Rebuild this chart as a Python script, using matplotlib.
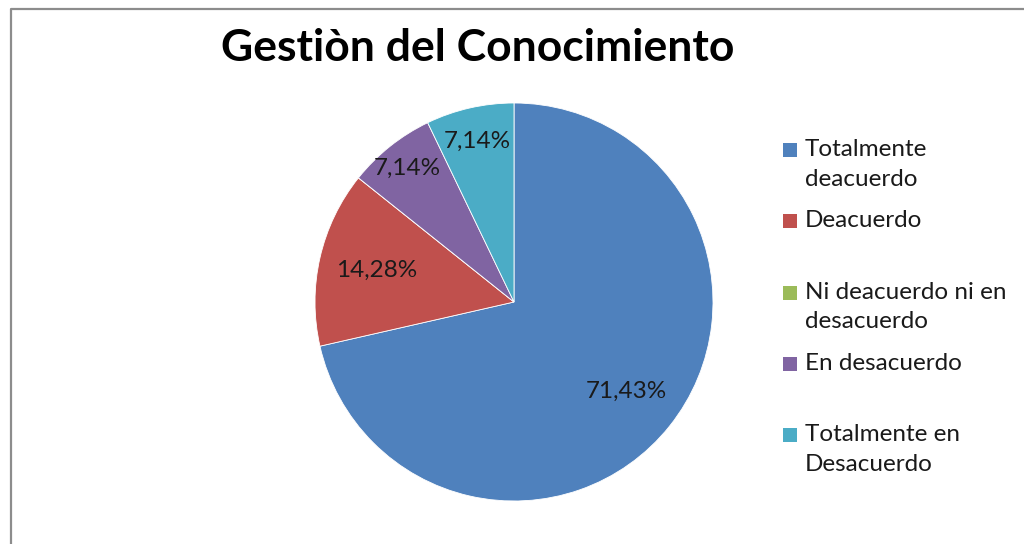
import matplotlib.pyplot as plt
import matplotlib.patches as patches
from matplotlib.lines import Line2D
import numpy as np

plt.rcParams['font.family'] = ['Lato', 'DejaVu Sans']

title = 'Gestiòn del Conocimiento'
categorias = ['Totalmente\ndeacuerdo', 'Deacuerdo', 'Ni deacuerdo ni en\ndesacuerdo',
              'En desacuerdo', 'Totalmente en\nDesacuerdo']
valores = [71.43, 14.28, 0.0, 7.14, 7.14]
colores = ['#4F81BD', '#C0504D', '#9BBB59', '#8064A2', '#4BACC6']
# distance of each percentage label from the centre (fraction of radius)
dist_etiqueta = [0.72, 0.71, 0.7, 0.86, 0.83]

fig = plt.figure(figsize=(10.24, 5.44), dpi=100)

# chart frame (only top and left edges visible)
fx, fy = 10.5 / 1024, 1 - 8.5 / 544
fig.add_artist(Line2D([fx, fx, 1.1], [-0.1, fy, fy], transform=fig.transFigure,
                      color='#8c8c8c', linewidth=1.6))

ax = fig.add_axes([(514 - 199) / 1024, (544 - 302 - 199) / 544, 398 / 1024, 398 / 544])
wedges, _ = ax.pie(valores, colors=colores, startangle=90, counterclock=False,
                   wedgeprops=dict(edgecolor='white', linewidth=0.6))
ax.set_xlim(-1, 1)
ax.set_ylim(-1, 1)
ax.set_aspect('equal')
ax.axis('off')

for w, v, d in zip(wedges, valores, dist_etiqueta):
    if v == 0:
        continue
    ang = np.deg2rad((w.theta1 + w.theta2) / 2)
    txt = f'{v:.2f}'.replace('.', ',') + '%'
    ax.text(d * np.cos(ang), d * np.sin(ang), txt, ha='center', va='center',
            fontsize=17.5, color='#1a1a1a')

fig.text(478 / 1024, 1 - 48 / 544, title, ha='center', va='center',
         fontsize=32, fontweight='bold', color='black')

# legend drawn by hand so the marker sits on the first text line
for i, (lab, c) in enumerate(zip(categorias, colores)):
    yc = 150 + i * 71.3
    fig.add_artist(patches.Rectangle((783 / 1024, 1 - (yc + 7) / 544), 14 / 1024, 14 / 544,
                                     transform=fig.transFigure, facecolor=c, edgecolor='none'))
    fig.text(805 / 1024, 1 - (yc - 11) / 544, lab, ha='left', va='top',
             fontsize=17.5, color='#1a1a1a', linespacing=1.5)

fig.savefig('out.png', dpi=100, facecolor='white')
